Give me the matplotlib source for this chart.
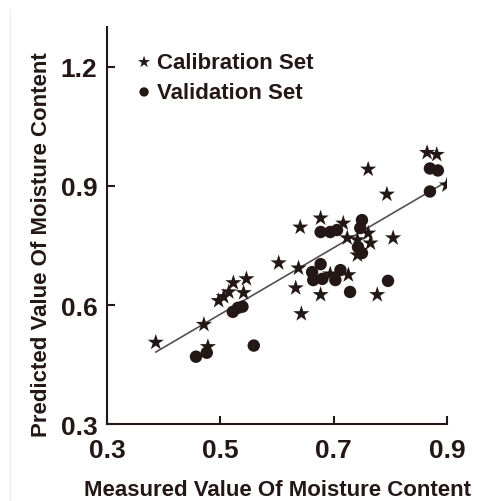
import matplotlib
matplotlib.use("Agg")
import matplotlib.pyplot as plt
import numpy as np

plt.rcParams['font.family'] = ['Liberation Sans', 'DejaVu Sans']
plt.rcParams['font.weight'] = 'bold'

INK = '#231815'

# calibration set (measured, predicted)
cal_measured = [0.386, 0.478, 0.471, 0.497, 0.506, 0.515, 0.523, 0.546, 0.541,
                0.603, 0.638, 0.633, 0.643, 0.641, 0.677, 0.717, 0.724, 0.742,
                0.761, 0.765, 0.805, 0.742, 0.726, 0.677, 0.777, 0.761, 0.794,
                0.865, 0.882, 0.900, 0.694]
cal_predicted = [0.506, 0.495, 0.551, 0.611, 0.621, 0.633, 0.656, 0.666, 0.631,
                 0.706, 0.693, 0.643, 0.578, 0.796, 0.819, 0.806, 0.769, 0.764,
                 0.781, 0.756, 0.769, 0.726, 0.676, 0.626, 0.626, 0.942, 0.879,
                 0.984, 0.979, 0.902, 0.678]

# validation set (measured, predicted)
val_measured = [0.457, 0.476, 0.559, 0.522, 0.531, 0.539, 0.677, 0.694, 0.706,
                0.750, 0.747, 0.677, 0.662, 0.664, 0.680, 0.703, 0.712, 0.729,
                0.796, 0.750, 0.870, 0.884, 0.870, 0.743]
val_predicted = [0.470, 0.480, 0.498, 0.583, 0.593, 0.596, 0.784, 0.784, 0.789,
                 0.814, 0.794, 0.703, 0.683, 0.663, 0.666, 0.663, 0.688, 0.633,
                 0.661, 0.731, 0.944, 0.939, 0.886, 0.746]

# regression line
fit_slope = 0.836
fit_intercept = 0.159

x_ticks = [0.3, 0.5, 0.7, 0.9]
y_ticks = [0.3, 0.6, 0.9, 1.2]

fig = plt.figure(figsize=(4.78, 5.02), dpi=100)
ax = fig.add_axes([0.224, 0.153, 0.711, 0.791])

line_x = np.array([min(cal_measured), max(cal_measured)])
ax.plot(line_x, fit_slope * line_x + fit_intercept, color='#555050', lw=1.2, zorder=1)

ax.scatter(cal_measured, cal_predicted, marker='*', s=150, color=INK,
           edgecolors='none', label='Calibration Set', zorder=3)
ax.scatter(val_measured, val_predicted, marker='o', s=80, color=INK,
           edgecolors='none', label='Validation Set', zorder=2)

ax.set_xlim(0.3, 0.9)
ax.set_ylim(0.3, 1.3)
ax.set_xticks(x_ticks)
ax.set_yticks(y_ticks)
ax.set_xticklabels([f'{v:.1f}' for v in x_ticks])
ax.set_yticklabels([f'{v:.1f}' for v in y_ticks])

for side in ['top', 'right']:
    ax.spines[side].set_visible(False)
for side in ['left', 'bottom']:
    ax.spines[side].set_linewidth(1.5)
    ax.spines[side].set_color(INK)

ax.tick_params(direction='in', length=6, width=1.5, colors=INK,
               labelsize=19, pad=7)
ax.tick_params(axis='x', pad=10)
for lbl in ax.get_xticklabels() + ax.get_yticklabels():
    lbl.set_fontweight('bold')

ax.set_xlabel('Measured Value Of Moisture Content', fontsize=16,
              fontweight='bold', color=INK, labelpad=12)
ax.set_ylabel('Predicted Value Of Moisture Content', fontsize=16,
              fontweight='bold', color=INK)
ax.yaxis.set_label_coords(-0.162, 0.455)

leg = ax.legend(loc='upper left', bbox_to_anchor=(0.05, 0.96), frameon=False,
                fontsize=16, handletextpad=0.1, labelspacing=0.4,
                markerscale=0.75, borderaxespad=0, handlelength=1.0)
for t in leg.get_texts():
    t.set_color(INK)
    t.set_fontweight('bold')

# faint frame line at the left edge of the original picture
fig.add_artist(plt.Line2D([0.021, 0.021], [0.0, 0.98], color='#eeeeee', lw=1))

fig.savefig('out.png', dpi=100)
